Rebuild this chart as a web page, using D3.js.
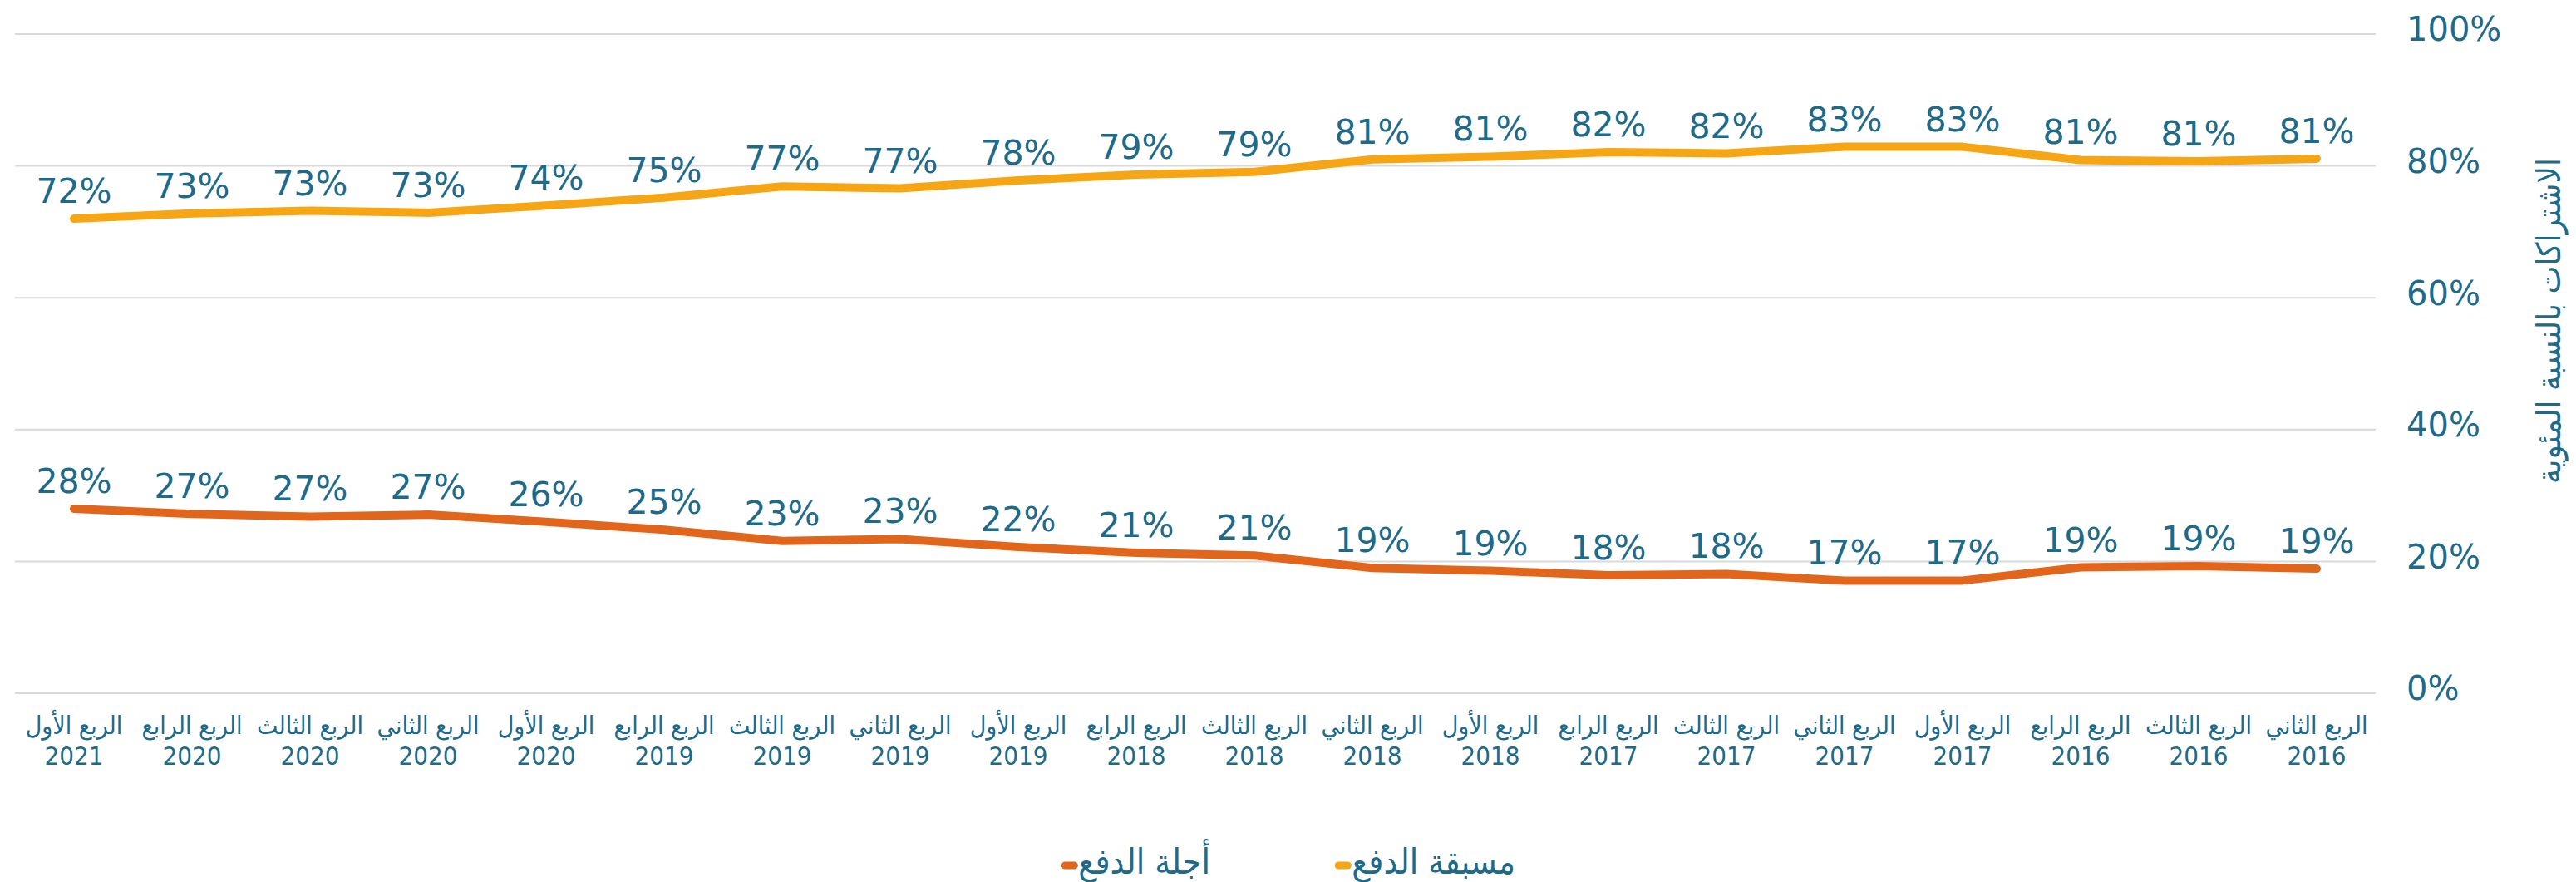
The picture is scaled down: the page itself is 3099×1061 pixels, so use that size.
<!DOCTYPE html>
<html>
<head>
<meta charset="utf-8">
<script src="https://cdn.jsdelivr.net/npm/d3@7"></script>
<style>
  html, body { margin: 0; padding: 0; background: #ffffff; }
  svg { display: block; }
</style>
</head>
<body>
<svg id="chart" width="3099" height="1061"></svg>
<script>
// ---- data ----
const quarters = ["الربع الأول","الربع الرابع","الربع الثالث","الربع الثاني","الربع الأول",
  "الربع الرابع","الربع الثالث","الربع الثاني","الربع الأول","الربع الرابع",
  "الربع الثالث","الربع الثاني","الربع الأول","الربع الرابع","الربع الثالث",
  "الربع الثاني","الربع الأول","الربع الرابع","الربع الثالث","الربع الثاني"];
const years = ["2021","2020","2020","2020","2020","2019","2019","2019","2019","2018",
  "2018","2018","2018","2017","2017","2017","2017","2016","2016","2016"];
const prepaid = [72.0,72.8,73.2,72.9,74.0,75.2,76.9,76.6,77.8,78.7,79.1,81.0,81.4,82.1,81.9,82.9,82.9,80.9,80.7,81.1];
const postpaid = [28.0,27.2,26.8,27.1,26.0,24.8,23.1,23.4,22.2,21.3,20.9,19.0,18.6,17.9,18.1,17.1,17.1,19.1,19.3,18.9];
const yTicks = [0,20,40,60,80,100];
const seriesNames = ["مسبقة الدفع","أجلة الدفع"];
const yTitle = "الاشتراكات بالنسبة المئوية";

// ---- style ----
const textColor = "#1d6a89";
const colors = ["#f6a514","#e1651b"];
const numFont = "DejaVu Sans, sans-serif";
const catFont = "DejaVu Sans Condensed, DejaVu Sans, sans-serif";

const svg = d3.select("#chart");
const idx = d3.range(quarters.length);

const x = d3.scaleBand().domain(idx).range([18, 2858]).padding(0);
const cx = i => x(i) + x.bandwidth() / 2;
const y = d3.scaleLinear().domain([0, 100]).range([834, 41]);

// gridlines
svg.append("g").selectAll("line").data(yTicks).join("line")
  .attr("x1", 18).attr("x2", 2858)
  .attr("y1", d => y(d)).attr("y2", d => y(d))
  .attr("stroke", "#d9d9d9").attr("stroke-width", 2);

// y axis (right side)
const yAxis = d3.axisRight(y).tickValues(yTicks).tickFormat(d => d + "%").tickSize(0).tickPadding(0);
const gy = svg.append("g").attr("transform", "translate(2895,0)").call(yAxis);
gy.select(".domain").remove();
gy.selectAll("text")
  .attr("font-family", numFont).attr("font-size", 40)
  .attr("fill", textColor).attr("dy", "0.32em")
  .attr("y", -5);

// x axis (two-line labels)
const xAxis = d3.axisBottom(x).tickSize(0).tickFormat("");
const gx = svg.append("g").attr("transform", "translate(0,834)").call(xAxis);
gx.select(".domain").remove();
gx.selectAll(".tick").each(function(i) {
  const t = d3.select(this).append("text")
    .attr("text-anchor", "middle")
    .attr("font-family", catFont).attr("font-size", 30)
    .attr("fill", textColor);
  t.append("tspan").attr("x", 0).attr("y", 38).attr("dy", "0.35em").text(quarters[i]);
  t.append("tspan").attr("x", 0).attr("y", 75).attr("dy", "0.35em").attr("font-size", 31).text(years[i]);
});

// lines
const line = d3.line().x((d, i) => cx(i)).y(d => y(d)).curve(d3.curveLinear);
[prepaid, postpaid].forEach((s, k) => {
  svg.append("path").datum(s)
    .attr("d", line)
    .attr("fill", "none")
    .attr("stroke", colors[k])
    .attr("stroke-width", 10)
    .attr("stroke-linejoin", "round")
    .attr("stroke-linecap", "round");
  svg.append("g").selectAll("text").data(s).join("text")
    .attr("x", (d, i) => cx(i))
    .attr("y", d => y(d) - 19)
    .attr("text-anchor", "middle")
    .attr("font-family", numFont).attr("font-size", 41)
    .attr("fill", textColor)
    .text(d => Math.round(d) + "%");
});

// y title
svg.append("text")
  .attr("transform", "translate(3066,386) rotate(-90)")
  .attr("text-anchor", "middle").attr("dy", "0.35em")
  .attr("font-family", catFont).attr("font-size", 40)
  .attr("fill", textColor)
  .text(yTitle);

// legend
const legendItems = [
  {name: seriesNames[0], color: colors[0], right: 1823},
  {name: seriesNames[1], color: colors[1], right: 1456}
];
const lg = svg.append("g");
legendItems.forEach(it => {
  const t = lg.append("text")
    .attr("x", it.right).attr("y", 1036)
    .attr("text-anchor", "end").attr("dy", "0.35em")
    .attr("font-family", catFont).attr("font-size", 42)
    .attr("fill", textColor)
    .text(it.name);
  const w = t.node().getComputedTextLength();
  const left = it.right - w;
  lg.append("line")
    .attr("x1", left - 16).attr("x2", left - 5)
    .attr("y1", 1041).attr("y2", 1041)
    .attr("stroke", it.color).attr("stroke-width", 9)
    .attr("stroke-linecap", "round");
});
</script>
</body>
</html>
